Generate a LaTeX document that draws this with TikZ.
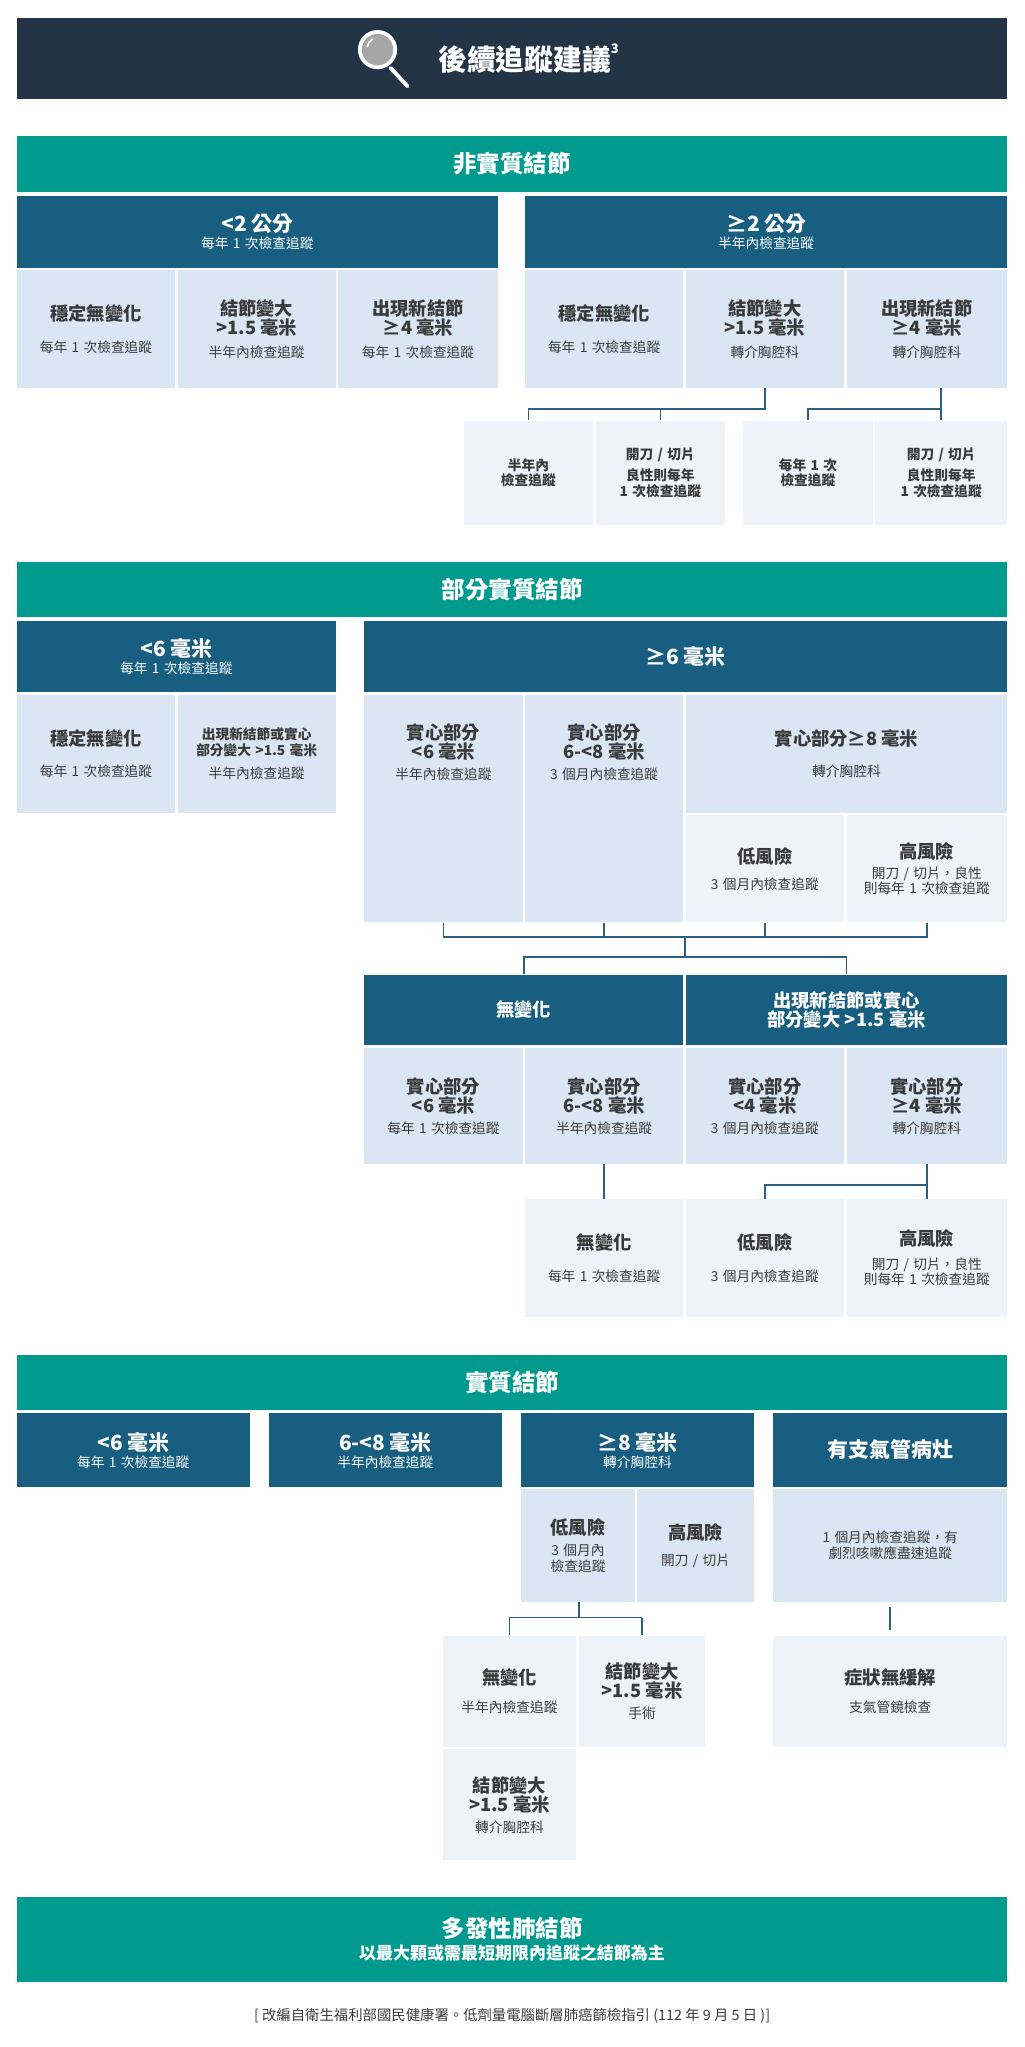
\documentclass[tikz,border=0pt]{standalone}
\usepackage{fontspec}
\setmainfont{Noto Sans CJK TC}
\usetikzlibrary{calc}
\definecolor{hdr}{HTML}{243447}
\definecolor{teal}{HTML}{009A8E}
\definecolor{dkb}{HTML}{175E80}
\definecolor{ltb}{HTML}{DAE6F4}
\definecolor{ltc}{HTML}{EEF3FA}
\definecolor{conn}{HTML}{2F5F80}
\definecolor{txt}{HTML}{3A3A3A}
\newcommand{\hdt}[1]{{\fontsize{14}{17}\selectfont\bfseries #1}}
\newcommand{\smt}[1]{{\fontsize{10.5}{14}\selectfont #1}}
\newcommand{\bht}[1]{{\fontsize{16}{19}\selectfont\bfseries #1}}
% \cell{name}{x1}{y1}{x2}{y2}{style}{content}
\newcommand{\cell}[7]{\node[cellbox,#6,minimum width={(#4-#2)*1pt},minimum height={(#5-#3)*1pt},text width={(#4-#2-4)*1pt}] (#1) at ({(#2+#4)/2},{(#3+#5)/2}) {#7};}
\newcommand{\cellT}[8]{\node[cellbox,#6,minimum width={(#4-#2)*1pt},minimum height={(#5-#3)*1pt}] (#1) at ({(#2+#4)/2},{(#3+#5)/2}) {};
\node[text width={(#4-#2-4)*1pt},align=center,inner sep=0pt,anchor=center,text=txt] at ({(#2+#4)/2},{#3+#8}) {#7};}
\tikzset{
  cellbox/.style={inner sep=0pt,align=center,draw=none},
  dark/.style={fill=dkb,text=white},
  tealb/.style={fill=teal,text=white},
  lb/.style={fill=ltb,text=txt},
  lc/.style={fill=ltc,text=txt},
  cn/.style={draw=conn,line width=1.3pt}
}
\begin{document}
\begin{tikzpicture}[x=1pt,y=-1pt]
\useasboundingbox (0,0) rectangle (784,1567);
% header
\cell{hd}{13}{14}{771}{76}{fill=hdr,text=white}{}
\node[text=white,anchor=west] (title) at (332,45) {\fontsize{22}{26}\selectfont\bfseries 後續追蹤建議\raisebox{0.6em}{\fontsize{10}{10}\selectfont 3}};
\draw[white,line width=3pt,line cap=round] (299,52) -- (312,66);
\fill[white] (289,38) circle (15);
\fill[gray!70!white] (289,38) circle (12);
\draw[white,line width=1.2pt] (281,36) arc (190:240:9);
% ---- section 1
\cell{t1}{13}{104}{771}{147}{tealb}{\fontsize{18}{21}\selectfont\bfseries 非實質結節}
\cell{a1}{13}{150}{381}{205}{dark}{\bht{<2 公分}\\[1pt]\smt{每年 1 次檢查追蹤}}
\cell{a2}{402}{150}{771}{205}{dark}{\bht{≥2 公分}\\[1pt]\smt{半年內檢查追蹤}}
\cell{b1}{13}{207}{134}{297}{lb}{\hdt{穩定無變化}\\[12pt]\smt{每年 1 次檢查追蹤}}
\cell{b2}{136}{207}{257}{297}{lb}{\hdt{結節變大}\\\hdt{>1.5 毫米}\\[6pt]\smt{半年內檢查追蹤}}
\cell{b3}{259}{207}{381}{297}{lb}{\hdt{出現新結節}\\\hdt{≥4 毫米}\\[6pt]\smt{每年 1 次檢查追蹤}}
\cell{b4}{402}{207}{523}{297}{lb}{\hdt{穩定無變化}\\[12pt]\smt{每年 1 次檢查追蹤}}
\cell{b5}{525}{207}{646}{297}{lb}{\hdt{結節變大}\\\hdt{>1.5 毫米}\\[6pt]\smt{轉介胸腔科}}
\cell{b6}{648}{207}{771}{297}{lb}{\hdt{出現新結節}\\\hdt{≥4 毫米}\\[6pt]\smt{轉介胸腔科}}
\cell{c1}{355}{322}{454}{402}{lc}{\smt{\bfseries 半年內}\\\smt{\bfseries 檢查追蹤}}
\cell{c2}{456}{322}{555}{402}{lc}{\smt{\bfseries 開刀 / 切片}\\[4pt]\smt{\bfseries 良性則每年}\\\smt{\bfseries 1 次檢查追蹤}}
\cell{c3}{569}{322}{668}{402}{lc}{\smt{\bfseries 每年 1 次}\\\smt{\bfseries 檢查追蹤}}
\cell{c4}{670}{322}{771}{402}{lc}{\smt{\bfseries 開刀 / 切片}\\[4pt]\smt{\bfseries 良性則每年}\\\smt{\bfseries 1 次檢查追蹤}}
\draw[cn] (b5.south) -- ++(0,16) -| (c1.north);
\draw[cn] (c2.north) -- ++(0,-9);
\draw[cn] (b6.south-|c4.north) -- ++(0,16) -| (c3.north);
\draw[cn] (b6.south-|c4.north) -- (c4.north);
% ---- section 2
\cell{t2}{13}{430}{771}{472}{tealb}{\fontsize{18}{21}\selectfont\bfseries 部分實質結節}
\cell{d1}{13}{475}{257}{530}{dark}{\bht{<6 毫米}\\[1pt]\smt{每年 1 次檢查追蹤}}
\cell{d2}{279}{475}{771}{530}{dark}{\bht{≥6 毫米}}
\cell{e1}{13}{532}{134}{622}{lb}{\hdt{穩定無變化}\\[12pt]\smt{每年 1 次檢查追蹤}}
\cell{e2}{136}{532}{257}{622}{lb}{\smt{\bfseries 出現新結節或實心}\\\smt{\bfseries 部分變大 >1.5 毫米}\\[6pt]\smt{半年內檢查追蹤}}
\cellT{p1}{279}{532}{400}{706}{lb}{\hdt{實心部分}\\\hdt{<6 毫米}\\[4pt]\smt{半年內檢查追蹤}}{44}
\cellT{p2}{402}{532}{523}{706}{lb}{\hdt{實心部分}\\\hdt{6-<8 毫米}\\[4pt]\smt{3 個月內檢查追蹤}}{44}
\cell{p3}{525}{532}{771}{622}{lb}{\hdt{實心部分≥8 毫米}\\[12pt]\smt{轉介胸腔科}}
\cell{p4}{525}{624}{646}{706}{lc}{\hdt{低風險}\\[8pt]\smt{3 個月內檢查追蹤}}
\cell{p5}{648}{624}{771}{706}{lc}{\hdt{高風險}\\[3pt]\smt{開刀 / 切片，良性}\\\smt{則每年 1 次檢查追蹤}}
\cell{n1}{279}{746}{523}{800}{dark}{\hdt{無變化}}
\cell{n2}{525}{746}{771}{800}{dark}{\hdt{出現新結節或實心}\\\hdt{部分變大 >1.5 毫米}}
\draw[cn] (p1.south) -- ++(0,11) -| (p5.south);
\draw[cn] (p2.south) -- ++(0,11);
\draw[cn] (p4.south) -- ++(0,11);
\draw[cn] ($(p1.south)!0.5!(p5.south)+(0,11)$) -- ++(0,16);
\draw[cn] (n1.north) -- ++(0,-13) -| (n2.north);
\cell{q1}{279}{802}{400}{891}{lb}{\hdt{實心部分}\\\hdt{<6 毫米}\\[4pt]\smt{每年 1 次檢查追蹤}}
\cell{q2}{402}{802}{523}{891}{lb}{\hdt{實心部分}\\\hdt{6-<8 毫米}\\[4pt]\smt{半年內檢查追蹤}}
\cell{q3}{525}{802}{646}{891}{lb}{\hdt{實心部分}\\\hdt{<4 毫米}\\[4pt]\smt{3 個月內檢查追蹤}}
\cell{q4}{648}{802}{771}{891}{lb}{\hdt{實心部分}\\\hdt{≥4 毫米}\\[4pt]\smt{轉介胸腔科}}
\cell{r1}{402}{918}{523}{1008}{lc}{\hdt{無變化}\\[12pt]\smt{每年 1 次檢查追蹤}}
\cell{r2}{525}{918}{646}{1008}{lc}{\hdt{低風險}\\[12pt]\smt{3 個月內檢查追蹤}}
\cell{r3}{648}{918}{771}{1008}{lc}{\hdt{高風險}\\[6pt]\smt{開刀 / 切片，良性}\\\smt{則每年 1 次檢查追蹤}}
\draw[cn] (q2.south) -- (r1.north);
\draw[cn] (q4.south) -- ++(0,16) -| (r2.north);
\draw[cn] (q4.south) -- (q4.south|-r3.north);
% ---- section 3
\cell{t3}{13}{1037}{771}{1079}{tealb}{\fontsize{18}{21}\selectfont\bfseries 實質結節}
\cell{f1}{13}{1082}{191}{1138}{dark}{\bht{<6 毫米}\\[1pt]\smt{每年 1 次檢查追蹤}}
\cell{f2}{206}{1082}{384}{1138}{dark}{\bht{6-<8 毫米}\\[1pt]\smt{半年內檢查追蹤}}
\cell{f3}{399}{1082}{577}{1138}{dark}{\bht{≥8 毫米}\\[1pt]\smt{轉介胸腔科}}
\cell{f4}{592}{1082}{771}{1138}{dark}{\bht{有支氣管病灶}}
\cell{g1}{399}{1140}{486}{1226}{lb}{\hdt{低風險}\\[4pt]\smt{3 個月內}\\\smt{檢查追蹤}}
\cell{g2}{488}{1140}{577}{1226}{lb}{\hdt{高風險}\\[8pt]\smt{開刀 / 切片}}
\cell{g3}{592}{1140}{771}{1226}{lb}{\smt{1 個月內檢查追蹤，有}\\\smt{劇烈咳嗽應盡速追蹤}}
\cell{h1}{339}{1252}{441}{1337}{lc}{\hdt{無變化}\\[10pt]\smt{半年內檢查追蹤}}
\cell{h2}{443}{1252}{540}{1337}{lc}{\hdt{結節變大}\\\hdt{>1.5 毫米}\\[4pt]\smt{手術}}
\cell{h3}{592}{1252}{771}{1337}{lc}{\hdt{症狀無緩解}\\[10pt]\smt{支氣管鏡檢查}}
\cell{h4}{339}{1339}{441}{1424}{lc}{\hdt{結節變大}\\\hdt{>1.5 毫米}\\[4pt]\smt{轉介胸腔科}}
\draw[cn] (g1.south-|443,0) -- ++(0,12) coordinate (m3);
\draw[cn] (m3-|h1.north) -- (m3-|h2.north);
\draw[cn] (m3-|h1.north) -- (h1.north);
\draw[cn] (m3-|h2.north) -- (h2.north);
\draw[cn] ($(g3.south)+(0,4)$) -- ($(h3.north)+(0,-4)$);
% ---- section 4
\cell{t4}{13}{1452}{771}{1517}{tealb}{\fontsize{18}{21}\selectfont\bfseries 多發性肺結節\\[2pt]\fontsize{13}{16}\selectfont\bfseries 以最大顆或需最短期限內追蹤之結節為主}
\node[text=txt] (foot) at (392,1543) {\fontsize{11}{13}\selectfont [ 改編自衛生福利部國民健康署。低劑量電腦斷層肺癌篩檢指引 (112 年 9 月 5 日 )]};
\end{tikzpicture}
\end{document}
